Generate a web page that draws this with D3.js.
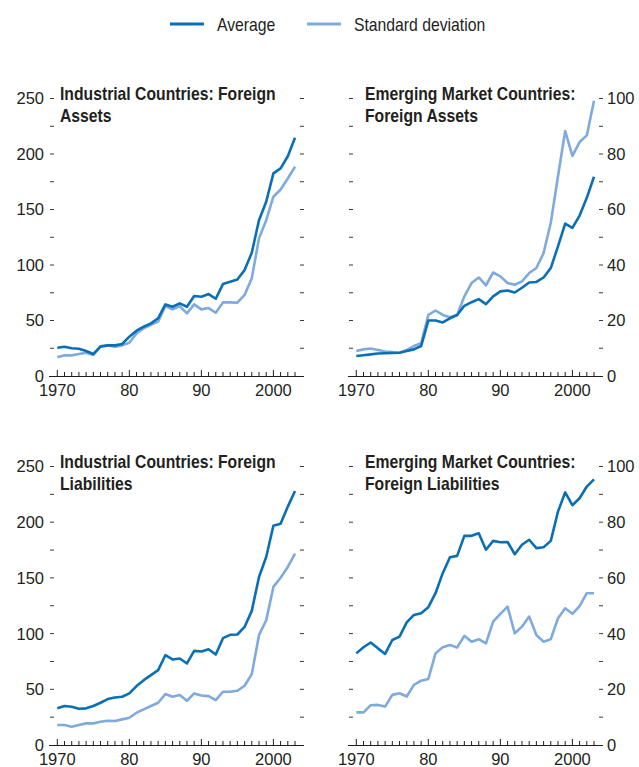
<!DOCTYPE html>
<html>
<head>
<meta charset="utf-8">
<script src="https://cdn.jsdelivr.net/npm/d3@7"></script>
<style>
body { margin: 0; background: #fff; }
text { fill: #231f20; }
.tick-lab { font-family: "Liberation Sans", Arial, sans-serif; font-size: 16.5px; }
.title { font-family: "Liberation Sans", Arial, sans-serif; font-weight: bold; font-size: 18.5px; }
.legend text { font-family: "Liberation Sans", Arial, sans-serif; font-size: 17.5px; }
</style>
</head>
<body>
<script>
// years on the x axis
var years = d3.range(1970, 2004);
var decadeLabels = ["1970", "80", "90", "2000"];

// Industrial countries, foreign assets
var indAssetsAvg = [25.5, 26.4, 25, 24.6, 22.5, 19.8, 26.4, 27.6, 27.6, 28.8, 35.4, 40.8, 44.4, 47.4, 52, 64.5, 62.4, 65.4, 62.4, 72,
	71.4, 73.8, 69.6, 82.8, 85, 87, 95.4, 111, 140.4, 157, 182.5, 187, 198, 214.6];
var indAssetsSd = [16.8, 18.6, 18.6, 19.8, 21, 18.9, 27, 27.6, 26.4, 27.6, 30, 38.4, 43, 46, 49, 63, 60, 63, 56.4, 64.5,
	60, 61.2, 57, 66.3, 66.3, 66, 73, 88, 124, 140.4, 161.5, 168, 178, 188.5];

// Emerging market countries, foreign assets
var emAssetsAvg = [7.2, 7.5, 7.8, 8.1, 8.2, 8.3, 8.4, 9, 9.6, 10.8, 20, 20, 19.3, 20.8, 22, 25.3, 26.6, 27.7, 25.9, 28.7,
	30.5, 30.8, 30.1, 31.8, 33.7, 33.9, 35.5, 38.9, 46.7, 54.9, 53.4, 57.8, 64.2, 71.8];
var emAssetsSd = [9, 9.6, 9.9, 9.4, 8.8, 8.6, 8.4, 9.4, 10.8, 11.8, 22, 23.6, 22, 21.2, 22, 28.7, 33.5, 35.5, 32.7, 37.3,
	35.9, 33.5, 32.9, 34.1, 37.1, 38.9, 44.3, 55.2, 72, 88.3, 79.3, 84.3, 86.7, 99.2];

// Industrial countries, foreign liabilities
var indLiabAvg = [32.9, 35, 34.3, 32.6, 32.9, 35, 37.9, 41.2, 42.7, 43.3, 46.3, 52.9, 58.2, 62.7, 67.2, 80.6, 76.8, 77.7, 73.2, 84.5,
	83.9, 86, 81.2, 95.9, 98.9, 99.2, 106, 120.4, 150.8, 168.8, 196.8, 198.6, 214, 228];
var indLiabSd = [17.9, 17.9, 16.4, 17.9, 19.4, 19.4, 20.9, 21.8, 21.5, 23, 24.5, 29, 32, 35, 37.9, 45.7, 43.3, 44.8, 39.7, 46.3,
	44.5, 43.9, 40.3, 47.8, 47.8, 48.7, 53.2, 63.6, 98.6, 112, 141.9, 150.2, 159.8, 171.8];

// Emerging market countries, foreign liabilities
var emLiabAvg = [32.9, 35.1, 36.8, 34.7, 32.7, 37.7, 38.9, 44, 46.7, 47.3, 49.5, 54.5, 61.7, 67.4, 67.9, 75.1, 75.1, 76, 70.1, 73.3,
	72.8, 72.9, 68.5, 71.9, 73.7, 70.7, 71, 73.3, 83.8, 90.7, 86.1, 88.6, 92.8, 95.4];
var emLiabSd = [11.7, 11.7, 14.3, 14.4, 13.8, 18, 18.6, 17.4, 21.6, 23.1, 23.7, 32.9, 35.1, 35.9, 35, 39.2, 37.1, 38, 36.5, 44.3,
	47.1, 49.7, 40.1, 42.5, 46.1, 39.5, 37.1, 38, 45.5, 49.1, 47.1, 49.9, 54.5, 54.5];

var seriesNames = ["Average", "Standard deviation"];
var colors = ["#0a6fb5", "#7eaadd"];

var panels = [
	{ title: ["Industrial Countries: Foreign", "Assets"], avg: indAssetsAvg, sd: indAssetsSd, max: 250, minor: 25, left: 49, right: 304, top: 98.5, bottom: 376, side: "left" },
	{ title: ["Emerging Market Countries:", "Foreign Assets"], avg: emAssetsAvg, sd: emAssetsSd, max: 100, minor: 10, left: 348, right: 603, top: 98.5, bottom: 376, side: "right" },
	{ title: ["Industrial Countries: Foreign", "Liabilities"], avg: indLiabAvg, sd: indLiabSd, max: 250, minor: 25, left: 49, right: 304, top: 466.5, bottom: 745, side: "left" },
	{ title: ["Emerging Market Countries:", "Foreign Liabilities"], avg: emLiabAvg, sd: emLiabSd, max: 100, minor: 10, left: 348, right: 603, top: 466.5, bottom: 745, side: "right" }
];

var svg = d3.select("body").append("svg")
	.attr("width", 639)
	.attr("height", 767);

// legend (text squeezed to look like a condensed face)
var legend = svg.append("g").attr("class", "legend");
var legX = [170, 307];
seriesNames.forEach(function (name, i) {
	legend.append("line")
		.attr("x1", legX[i]).attr("x2", legX[i] + 34)
		.attr("y1", 24).attr("y2", 24)
		.attr("stroke", colors[i]).attr("stroke-width", 3);
	legend.append("text")
		.attr("transform", "translate(" + (legX[i] + 47) + ",31) scale(0.9,1)")
		.text(name);
});

panels.forEach(function (p) {
	var g = svg.append("g");

	var x = d3.scaleLinear()
		.domain([1970, 2003])
		.range([p.left + 8.3, p.right - 9]);
	var y = d3.scaleLinear()
		.domain([0, p.max])
		.range([p.bottom, p.top]);

	// y dashes on both sides
	d3.range(p.minor, p.max + 0.1, p.minor).forEach(function (v) {
		[p.left + 1, p.right - 4].forEach(function (x0) {
			g.append("line")
				.attr("x1", x0).attr("x2", x0 + 4)
				.attr("y1", y(v)).attr("y2", y(v))
				.attr("stroke", "#3a3a3a").attr("stroke-width", 1);
		});
	});

	// y labels
	y.ticks(5).forEach(function (v) {
		g.append("text")
			.attr("class", "tick-lab")
			.attr("x", p.side === "left" ? p.left - 5 : p.right + 4)
			.attr("y", y(v))
			.attr("dy", "0.36em")
			.attr("text-anchor", p.side === "left" ? "end" : "start")
			.text(v);
	});

	// x axis line
	g.append("line")
		.attr("x1", p.left).attr("x2", p.right)
		.attr("y1", p.bottom + 0.5).attr("y2", p.bottom + 0.5)
		.attr("stroke", "#231f20").attr("stroke-width", 1);

	years.forEach(function (yr) {
		var dec = yr % 10 === 0;
		g.append("line")
			.attr("x1", x(yr)).attr("x2", x(yr))
			.attr("y1", p.bottom + (dec ? 1 : 0.5)).attr("y2", p.bottom - (dec ? 6 : 4))
			.attr("stroke", "#231f20").attr("stroke-width", 1);
	});

	[1970, 1980, 1990, 2000].forEach(function (yr, i) {
		g.append("text")
			.attr("class", "tick-lab")
			.attr("x", x(yr))
			.attr("y", p.bottom + 19.5)
			.attr("text-anchor", "middle")
			.text(decadeLabels[i]);
	});

	// lines
	var line = d3.line()
		.x(function (d, i) { return x(years[i]); })
		.y(function (d) { return y(d); });

	[p.sd, p.avg].forEach(function (s, k) {
		g.append("path")
			.datum(s)
			.attr("d", line)
			.attr("fill", "none")
			.attr("stroke", k === 0 ? colors[1] : colors[0])
			.attr("stroke-width", 2.6)
			.attr("stroke-linejoin", "round");
	});

	// title, two lines, condensed
	p.title.forEach(function (t, i) {
		var tx = p.left + (p.side === "left" ? 11 : 17);
		var ty = p.top + 1.5 + i * 22;
		g.append("text")
			.attr("class", "title")
			.attr("transform", "translate(" + tx + "," + ty + ") scale(0.85,1)")
			.text(t);
	});
});
</script>
</body>
</html>
